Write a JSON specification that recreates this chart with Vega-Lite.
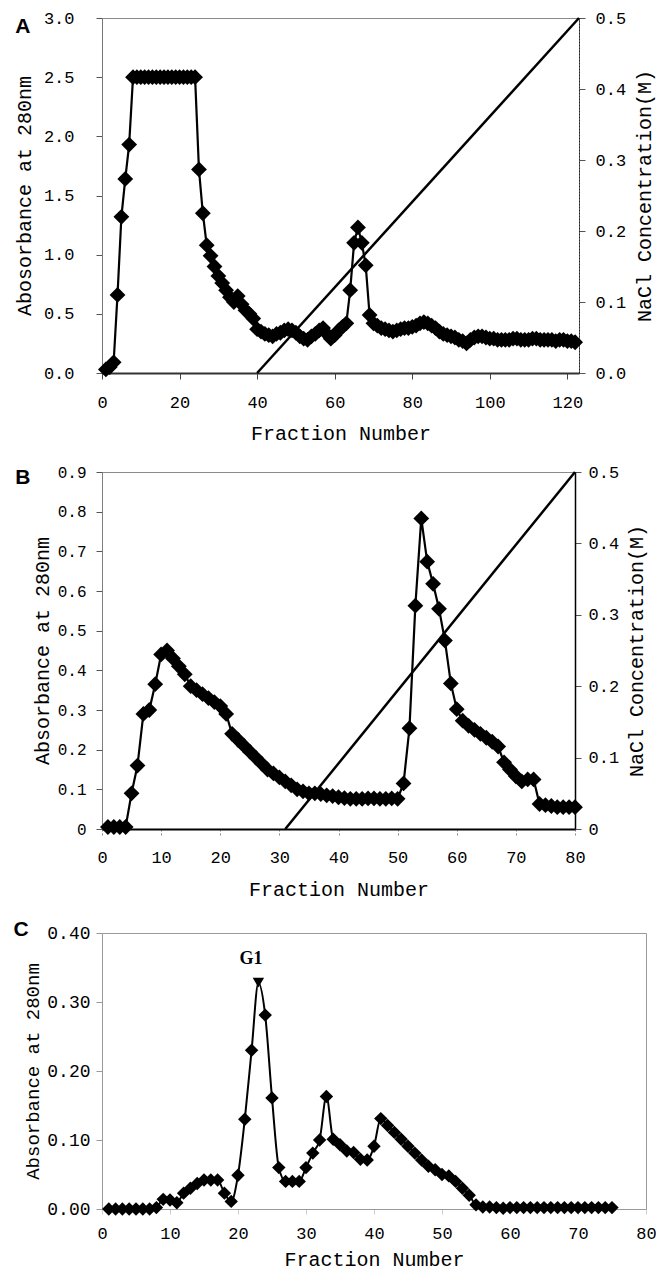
{
 "$schema": "https://vega.github.io/schema/vega-lite/v6.json",
 "background": "white",
 "padding": {"left": 12, "top": 8, "right": 0, "bottom": 0},
 "spacing": 18,
 "config": {
  "view": {"stroke": "#8a8a8a", "strokeWidth": 1},
  "axis": {"grid": false, "labelFont": "Liberation Mono", "labelFontSize": 17, "labelColor": "#000", "titleFont": "Liberation Mono", "titleFontSize": 20, "titleFontWeight": "normal", "titleColor": "#000", "tickColor": "#555", "tickSize": 6, "domainColor": "#555", "labelFlush": false, "labelOverlap": false, "labelSeparation": 0}
 },
 "datasets": {
  "panelA": [
   {"fraction":1,"absorbance":0.03},{"fraction":2,"absorbance":0.05},{"fraction":3,"absorbance":0.09},{"fraction":4,"absorbance":0.66},{"fraction":5,"absorbance":1.32},{"fraction":6,"absorbance":1.64},{"fraction":7,"absorbance":1.93},
   {"fraction":8,"absorbance":2.5},{"fraction":9,"absorbance":2.5},{"fraction":10,"absorbance":2.5},{"fraction":11,"absorbance":2.5},{"fraction":12,"absorbance":2.5},{"fraction":13,"absorbance":2.5},{"fraction":14,"absorbance":2.5},{"fraction":15,"absorbance":2.5},{"fraction":16,"absorbance":2.5},{"fraction":17,"absorbance":2.5},{"fraction":18,"absorbance":2.5},{"fraction":19,"absorbance":2.5},{"fraction":20,"absorbance":2.5},{"fraction":21,"absorbance":2.5},{"fraction":22,"absorbance":2.5},{"fraction":23,"absorbance":2.5},{"fraction":24,"absorbance":2.5},
   {"fraction":25,"absorbance":1.72},{"fraction":26,"absorbance":1.35},{"fraction":27,"absorbance":1.08},{"fraction":28,"absorbance":0.99},{"fraction":29,"absorbance":0.9},{"fraction":30,"absorbance":0.82},{"fraction":31,"absorbance":0.76},{"fraction":32,"absorbance":0.7},{"fraction":33,"absorbance":0.64},{"fraction":34,"absorbance":0.6},{"fraction":35,"absorbance":0.65},{"fraction":36,"absorbance":0.58},{"fraction":37,"absorbance":0.53},{"fraction":38,"absorbance":0.5},{"fraction":39,"absorbance":0.46},{"fraction":40,"absorbance":0.37},
   {"fraction":41,"absorbance":0.35},{"fraction":42,"absorbance":0.33},{"fraction":43,"absorbance":0.32},{"fraction":44,"absorbance":0.31},{"fraction":45,"absorbance":0.33},{"fraction":46,"absorbance":0.34},{"fraction":47,"absorbance":0.36},{"fraction":48,"absorbance":0.37},{"fraction":49,"absorbance":0.36},{"fraction":50,"absorbance":0.34},
   {"fraction":51,"absorbance":0.31},{"fraction":52,"absorbance":0.29},{"fraction":53,"absorbance":0.28},{"fraction":54,"absorbance":0.31},{"fraction":55,"absorbance":0.33},{"fraction":56,"absorbance":0.36},{"fraction":57,"absorbance":0.38},{"fraction":58,"absorbance":0.33},{"fraction":59,"absorbance":0.29},{"fraction":60,"absorbance":0.32},
   {"fraction":61,"absorbance":0.36},{"fraction":62,"absorbance":0.39},{"fraction":63,"absorbance":0.42},{"fraction":64,"absorbance":0.7},{"fraction":65,"absorbance":1.1},{"fraction":66,"absorbance":1.23},{"fraction":67,"absorbance":1.1},{"fraction":68,"absorbance":0.91},{"fraction":69,"absorbance":0.49},{"fraction":70,"absorbance":0.42},
   {"fraction":71,"absorbance":0.4},{"fraction":72,"absorbance":0.38},{"fraction":73,"absorbance":0.37},{"fraction":74,"absorbance":0.36},{"fraction":75,"absorbance":0.35},{"fraction":76,"absorbance":0.36},{"fraction":77,"absorbance":0.37},{"fraction":78,"absorbance":0.38},{"fraction":79,"absorbance":0.38},{"fraction":80,"absorbance":0.39},
   {"fraction":81,"absorbance":0.4},{"fraction":82,"absorbance":0.42},{"fraction":83,"absorbance":0.43},{"fraction":84,"absorbance":0.42},{"fraction":85,"absorbance":0.4},{"fraction":86,"absorbance":0.38},{"fraction":87,"absorbance":0.35},{"fraction":88,"absorbance":0.33},{"fraction":89,"absorbance":0.32},{"fraction":90,"absorbance":0.31},
   {"fraction":91,"absorbance":0.3},{"fraction":92,"absorbance":0.28},{"fraction":93,"absorbance":0.27},{"fraction":94,"absorbance":0.25},{"fraction":95,"absorbance":0.28},{"fraction":96,"absorbance":0.3},{"fraction":97,"absorbance":0.31},{"fraction":98,"absorbance":0.31},{"fraction":99,"absorbance":0.3},{"fraction":100,"absorbance":0.29},
   {"fraction":101,"absorbance":0.29},{"fraction":102,"absorbance":0.28},{"fraction":103,"absorbance":0.28},{"fraction":104,"absorbance":0.28},{"fraction":105,"absorbance":0.28},{"fraction":106,"absorbance":0.29},{"fraction":107,"absorbance":0.29},{"fraction":108,"absorbance":0.28},{"fraction":109,"absorbance":0.28},{"fraction":110,"absorbance":0.28},
   {"fraction":111,"absorbance":0.29},{"fraction":112,"absorbance":0.29},{"fraction":113,"absorbance":0.28},{"fraction":114,"absorbance":0.28},{"fraction":115,"absorbance":0.28},{"fraction":116,"absorbance":0.28},{"fraction":117,"absorbance":0.27},{"fraction":118,"absorbance":0.28},{"fraction":119,"absorbance":0.28},{"fraction":120,"absorbance":0.27},
   {"fraction":121,"absorbance":0.27},{"fraction":122,"absorbance":0.26}
  ],
  "panelA_nacl": [{"fraction":40,"nacl":0},{"fraction":123,"nacl":0.5}],
  "panelB": [
   {"fraction":1,"absorbance":0.005},{"fraction":2,"absorbance":0.005},{"fraction":3,"absorbance":0.005},{"fraction":4,"absorbance":0.005},{"fraction":5,"absorbance":0.09},{"fraction":6,"absorbance":0.16},{"fraction":7,"absorbance":0.29},{"fraction":8,"absorbance":0.3},{"fraction":9,"absorbance":0.365},{"fraction":10,"absorbance":0.44},
   {"fraction":11,"absorbance":0.45},{"fraction":12,"absorbance":0.43},{"fraction":13,"absorbance":0.41},{"fraction":14,"absorbance":0.39},{"fraction":15,"absorbance":0.36},{"fraction":16,"absorbance":0.35},{"fraction":17,"absorbance":0.34},{"fraction":18,"absorbance":0.33},{"fraction":19,"absorbance":0.32},{"fraction":20,"absorbance":0.31},
   {"fraction":21,"absorbance":0.29},{"fraction":22,"absorbance":0.24},{"fraction":23,"absorbance":0.225},{"fraction":24,"absorbance":0.21},{"fraction":25,"absorbance":0.195},{"fraction":26,"absorbance":0.18},{"fraction":27,"absorbance":0.165},{"fraction":28,"absorbance":0.15},{"fraction":29,"absorbance":0.14},{"fraction":30,"absorbance":0.13},
   {"fraction":31,"absorbance":0.12},{"fraction":32,"absorbance":0.11},{"fraction":33,"absorbance":0.1},{"fraction":34,"absorbance":0.095},{"fraction":35,"absorbance":0.09},{"fraction":36,"absorbance":0.09},{"fraction":37,"absorbance":0.088},{"fraction":38,"absorbance":0.085},{"fraction":39,"absorbance":0.083},{"fraction":40,"absorbance":0.08},
   {"fraction":41,"absorbance":0.078},{"fraction":42,"absorbance":0.076},{"fraction":43,"absorbance":0.076},{"fraction":44,"absorbance":0.076},{"fraction":45,"absorbance":0.077},{"fraction":46,"absorbance":0.077},{"fraction":47,"absorbance":0.076},{"fraction":48,"absorbance":0.076},{"fraction":49,"absorbance":0.077},{"fraction":50,"absorbance":0.076},
   {"fraction":51,"absorbance":0.115},{"fraction":52,"absorbance":0.254},{"fraction":53,"absorbance":0.563},{"fraction":54,"absorbance":0.783},{"fraction":55,"absorbance":0.674},{"fraction":56,"absorbance":0.618},{"fraction":57,"absorbance":0.555},{"fraction":58,"absorbance":0.475},{"fraction":59,"absorbance":0.367},{"fraction":60,"absorbance":0.302},
   {"fraction":61,"absorbance":0.273},{"fraction":62,"absorbance":0.26},{"fraction":63,"absorbance":0.25},{"fraction":64,"absorbance":0.24},{"fraction":65,"absorbance":0.23},{"fraction":66,"absorbance":0.22},{"fraction":67,"absorbance":0.208},{"fraction":68,"absorbance":0.168},{"fraction":69,"absorbance":0.15},{"fraction":70,"absorbance":0.133},
   {"fraction":71,"absorbance":0.12},{"fraction":72,"absorbance":0.125},{"fraction":73,"absorbance":0.125},{"fraction":74,"absorbance":0.063},{"fraction":75,"absorbance":0.06},{"fraction":76,"absorbance":0.058},{"fraction":77,"absorbance":0.055},{"fraction":78,"absorbance":0.055},{"fraction":79,"absorbance":0.055},{"fraction":80,"absorbance":0.055}
  ],
  "panelB_nacl": [{"fraction":31,"nacl":0},{"fraction":80,"nacl":0.5}],
  "panelC": [
   {"fraction":1,"absorbance":0.0},{"fraction":2,"absorbance":0.0},{"fraction":3,"absorbance":0.0},{"fraction":4,"absorbance":0.0},{"fraction":5,"absorbance":0.0},{"fraction":6,"absorbance":0.0},{"fraction":7,"absorbance":0.0},{"fraction":8,"absorbance":0.002},{"fraction":9,"absorbance":0.014},{"fraction":10,"absorbance":0.013},
   {"fraction":11,"absorbance":0.009},{"fraction":12,"absorbance":0.023},{"fraction":13,"absorbance":0.03},{"fraction":14,"absorbance":0.037},{"fraction":15,"absorbance":0.042},{"fraction":16,"absorbance":0.042},{"fraction":17,"absorbance":0.042},{"fraction":18,"absorbance":0.023},{"fraction":19,"absorbance":0.011},{"fraction":20,"absorbance":0.049},
   {"fraction":21,"absorbance":0.13},{"fraction":22,"absorbance":0.23},{"fraction":23,"absorbance":0.328},{"fraction":24,"absorbance":0.281},{"fraction":25,"absorbance":0.161},{"fraction":26,"absorbance":0.06},{"fraction":27,"absorbance":0.04},{"fraction":28,"absorbance":0.04},{"fraction":29,"absorbance":0.04},{"fraction":30,"absorbance":0.06},
   {"fraction":31,"absorbance":0.081},{"fraction":32,"absorbance":0.1},{"fraction":33,"absorbance":0.163},{"fraction":34,"absorbance":0.101},{"fraction":35,"absorbance":0.093},{"fraction":36,"absorbance":0.084},{"fraction":37,"absorbance":0.082},{"fraction":38,"absorbance":0.072},{"fraction":39,"absorbance":0.071},{"fraction":40,"absorbance":0.091},
   {"fraction":41,"absorbance":0.131},{"fraction":42,"absorbance":0.121},{"fraction":43,"absorbance":0.111},{"fraction":44,"absorbance":0.101},{"fraction":45,"absorbance":0.091},{"fraction":46,"absorbance":0.081},{"fraction":47,"absorbance":0.071},{"fraction":48,"absorbance":0.062},{"fraction":49,"absorbance":0.057},{"fraction":50,"absorbance":0.05},
   {"fraction":51,"absorbance":0.048},{"fraction":52,"absorbance":0.04},{"fraction":53,"absorbance":0.03},{"fraction":54,"absorbance":0.02},{"fraction":55,"absorbance":0.006},{"fraction":56,"absorbance":0.003},{"fraction":57,"absorbance":0.003},{"fraction":58,"absorbance":0.002},{"fraction":59,"absorbance":0.001},{"fraction":60,"absorbance":0.002},
   {"fraction":61,"absorbance":0.002},{"fraction":62,"absorbance":0.002},{"fraction":63,"absorbance":0.002},{"fraction":64,"absorbance":0.002},{"fraction":65,"absorbance":0.002},{"fraction":66,"absorbance":0.002},{"fraction":67,"absorbance":0.002},{"fraction":68,"absorbance":0.002},{"fraction":69,"absorbance":0.002},{"fraction":70,"absorbance":0.002},
   {"fraction":71,"absorbance":0.002},{"fraction":72,"absorbance":0.002},{"fraction":73,"absorbance":0.002},{"fraction":74,"absorbance":0.002},{"fraction":75,"absorbance":0.002}
  ]
 },
 "vconcat": [
  {
   "width": 477, "height": 355,
   "layer": [
    {
     "layer": [
      {"data": {"name": "panelA"}, "mark": {"type": "line", "color": "#000", "strokeWidth": 2.2},
       "encoding": {
        "x": {"field": "fraction", "type": "quantitative", "scale": {"domain": [0, 123], "nice": false, "zero": false},
              "axis": {"values": [0,20,40,60,80,100,120], "title": "Fraction  Number", "labelPadding": 15, "titlePadding": 13, "domainColor": "#333", "domainWidth": 2, "tickColor": "#444", "labelOverlap": false}},
        "y": {"field": "absorbance", "type": "quantitative", "scale": {"domain": [0, 3], "nice": false},
              "axis": {"values": [0,0.5,1,1.5,2,2.5,3], "format": ".1f", "title": "Abosorbance at 280nm", "labelPadding": 22, "titlePadding": 9, "domainColor": "#777", "labelOverlap": false}}
       }},
      {"data": {"name": "panelA"}, "mark": {"type": "point", "shape": "diamond", "filled": true, "color": "#000", "size": 250, "opacity": 1, "strokeWidth": 0},
       "encoding": {
        "x": {"field": "fraction", "type": "quantitative", "scale": {"domain": [0, 123], "nice": false, "zero": false}},
        "y": {"field": "absorbance", "type": "quantitative", "scale": {"domain": [0, 3], "nice": false}}
       }},
      {"data": {"values": [{}]}, "mark": {"type": "text", "text": "A", "font": "Liberation Sans", "fontWeight": "bold", "fontSize": 21, "align": "center", "baseline": "middle", "color": "#000"},
       "encoding": {
        "x": {"datum": -20.4, "type": "quantitative", "scale": {"domain": [0, 123], "nice": false, "zero": false}},
        "y": {"datum": 2.92, "type": "quantitative", "scale": {"domain": [0, 3], "nice": false}}
       }}
     ]
    },
    {"data": {"name": "panelA_nacl"}, "mark": {"type": "line", "color": "#000", "strokeWidth": 2.5},
     "encoding": {
      "x": {"field": "fraction", "type": "quantitative", "scale": {"domain": [0, 123], "nice": false, "zero": false}},
      "y": {"field": "nacl", "type": "quantitative", "scale": {"domain": [0, 0.5], "nice": false},
            "axis": {"orient": "right", "values": [0,0.1,0.2,0.3,0.4,0.5], "format": ".1f", "title": "NaCl Concentration(M)", "titleAngle": 270, "titleBaseline": "top", "labelPadding": 10, "titlePadding": 9, "domainColor": "#222", "domainDash": [2,1], "labelOverlap": false}}
     }}
   ],
   "resolve": {"scale": {"y": "independent"}}
  },
  {
   "width": 473, "height": 357,
   "layer": [
    {
     "layer": [
      {"data": {"name": "panelB"}, "mark": {"type": "line", "color": "#000", "strokeWidth": 2.2},
       "encoding": {
        "x": {"field": "fraction", "type": "quantitative", "scale": {"domain": [0, 80], "nice": false, "zero": false},
              "axis": {"values": [0,10,20,30,40,50,60,70,80], "title": "Fraction Number", "labelPadding": 14, "titlePadding": 14, "domainColor": "#000", "domainWidth": 2, "tickColor": "#888", "tickDash": [2,2], "labelOverlap": false}},
        "y": {"field": "absorbance", "type": "quantitative", "scale": {"domain": [0, 0.9], "nice": false},
              "axis": {"values": [0,0.1,0.2,0.3,0.4,0.5,0.6,0.7,0.8,0.9], "tickCount": 10, "format": ".1~f", "title": "Absorbance at 280nm", "labelPadding": 10, "titlePadding": 5, "domainColor": "#777", "domainDash": [1,1], "labelOverlap": false, "labelFontSize": 16}}
       }},
      {"data": {"name": "panelB"}, "mark": {"type": "point", "shape": "diamond", "filled": true, "color": "#000", "size": 250, "opacity": 1, "strokeWidth": 0},
       "encoding": {
        "x": {"field": "fraction", "type": "quantitative", "scale": {"domain": [0, 80], "nice": false, "zero": false}},
        "y": {"field": "absorbance", "type": "quantitative", "scale": {"domain": [0, 0.9], "nice": false}}
       }}
     ]
    },
    {"data": {"name": "panelB_nacl"}, "mark": {"type": "line", "color": "#000", "strokeWidth": 2.5},
     "encoding": {
      "x": {"field": "fraction", "type": "quantitative", "scale": {"domain": [0, 80], "nice": false, "zero": false}},
      "y": {"field": "nacl", "type": "quantitative", "scale": {"domain": [0, 0.5], "nice": false},
            "axis": {"orient": "right", "values": [0,0.1,0.2,0.3,0.4,0.5], "format": ".1~f", "title": "NaCl Concentration(M)", "titleAngle": 270, "titleBaseline": "top", "labelPadding": 7, "titlePadding": 8, "domainColor": "#000", "domainWidth": 1.5, "labelOverlap": false}}
     }},
    {"data": {"values": [{}]}, "mark": {"type": "text", "text": "B", "font": "Liberation Sans", "fontWeight": "bold", "fontSize": 21, "align": "center", "baseline": "middle", "color": "#000"},
     "encoding": {
      "x": {"datum": -13.4, "type": "quantitative", "scale": {"domain": [0, 80], "nice": false, "zero": false}},
      "y": {"datum": 0.885, "type": "quantitative", "scale": {"domain": [0, 0.9], "nice": false}, "axis": null}
     }}
   ],
   "resolve": {"scale": {"y": "independent"}}
  },
  {
   "width": 544, "height": 276,
   "view": {"stroke": "#9a9a9a"},
   "layer": [
    {"data": {"name": "panelC"}, "mark": {"type": "line", "color": "#000", "strokeWidth": 2, "interpolate": "monotone"},
     "encoding": {
      "x": {"field": "fraction", "type": "quantitative", "scale": {"domain": [0, 80], "nice": false, "zero": false},
            "axis": {"values": [0,10,20,30,40,50,60,70,80], "title": "Fraction Number", "labelPadding": 11, "titlePadding": 8, "domainColor": "#999", "tickColor": "#ccc", "tickSize": 5, "labelOverlap": false}},
      "y": {"field": "absorbance", "type": "quantitative", "scale": {"domain": [0, 0.4], "nice": false},
            "axis": {"values": [0,0.1,0.2,0.3,0.4], "format": ".2f", "title": "Absorbance at 280nm", "labelFontSize": 18, "titleFontSize": 19, "labelPadding": 6, "titlePadding": 4, "domainColor": "#999", "tickColor": "#999", "labelOverlap": false}}
     }},
    {"data": {"name": "panelC"}, "transform": [{"filter": "datum.fraction != 23"}], "mark": {"type": "point", "shape": "diamond", "filled": true, "color": "#000", "size": 180, "opacity": 1, "strokeWidth": 0},
     "encoding": {
      "x": {"field": "fraction", "type": "quantitative", "scale": {"domain": [0, 80], "nice": false, "zero": false}},
      "y": {"field": "absorbance", "type": "quantitative", "scale": {"domain": [0, 0.4], "nice": false}}
     }},
    {"data": {"name": "panelC"}, "transform": [{"filter": "datum.fraction == 23"}], "mark": {"type": "point", "shape": "triangle-down", "filled": true, "color": "#000", "size": 130, "opacity": 1, "strokeWidth": 0},
     "encoding": {
      "x": {"field": "fraction", "type": "quantitative", "scale": {"domain": [0, 80], "nice": false, "zero": false}},
      "y": {"field": "absorbance", "type": "quantitative", "scale": {"domain": [0, 0.4], "nice": false}}
     }},
    {"data": {"values": [{}]}, "mark": {"type": "text", "text": "G1", "font": "Liberation Serif", "fontWeight": "bold", "fontSize": 18, "align": "center", "baseline": "middle", "color": "#000"},
     "encoding": {
      "x": {"datum": 21.9, "type": "quantitative", "scale": {"domain": [0, 80], "nice": false, "zero": false}},
      "y": {"datum": 0.362, "type": "quantitative", "scale": {"domain": [0, 0.4], "nice": false}}
     }},
    {"data": {"values": [{}]}, "mark": {"type": "text", "text": "C", "font": "Liberation Sans", "fontWeight": "bold", "fontSize": 21, "align": "center", "baseline": "middle", "color": "#000"},
     "encoding": {
      "x": {"datum": -11.9, "type": "quantitative", "scale": {"domain": [0, 80], "nice": false, "zero": false}},
      "y": {"datum": 0.405, "type": "quantitative", "scale": {"domain": [0, 0.4], "nice": false}}
     }}
   ]
  }
 ]
}
